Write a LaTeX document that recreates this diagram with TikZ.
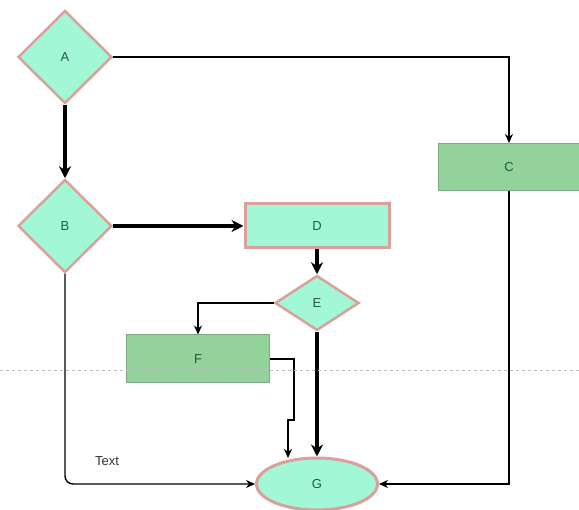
\documentclass[tikz,border=0pt]{standalone}
\usepackage{fontspec}
\setmainfont{Liberation Sans}
\usetikzlibrary{shapes.geometric,arrows.meta,calc}
\definecolor{aqua}{HTML}{A2F7D6}
\definecolor{rose}{HTML}{D9A09C}
\definecolor{grn}{HTML}{93D29A}
\definecolor{grnb}{HTML}{7FA888}
\definecolor{txt}{HTML}{1F5C40}
\tikzset{
  lbl/.style={font=\fontsize{13}{15}\selectfont, text=txt},
  dia/.style={diamond, draw=rose, fill=aqua, line width=2.5pt, inner sep=0pt, lbl},
  arect/.style={rectangle, draw=rose, fill=aqua, line width=3pt, inner sep=0pt, lbl},
  grect/.style={rectangle, draw=grnb, fill=grn, line width=1pt, inner sep=0pt, lbl},
  oval/.style={ellipse, draw=rose, fill=aqua, line width=3pt, inner sep=0pt, lbl},
  thin conn/.style={line width=1.4pt, -{Stealth[length=9pt,width=8pt]}},
  thick conn/.style={line width=3.2pt, -{Stealth[length=12pt,width=12pt]}},
}
\begin{document}
\begin{tikzpicture}[x=1pt,y=-1pt]
\useasboundingbox (0,0) rectangle (579,510);
\node[dia, minimum width=94pt, minimum height=93pt] (A) at (65,57) {A};
\node[dia, minimum width=94pt, minimum height=93pt] (B) at (65,226) {B};
\node[grect, minimum width=142pt, minimum height=47pt] (C) at (509,167) {C};
\node[arect, minimum width=144pt, minimum height=44pt] (D) at (317,226) {D};
\node[dia, minimum width=84pt, minimum height=55pt] (E) at (317,303) {E};
\node[grect, minimum width=143pt, minimum height=48pt] (F) at (198,359) {F};
\node[oval, minimum width=121pt, minimum height=52pt] (G) at (317,484) {G};
\coordinate (f1) at (294,420);
\coordinate (f2) at (288,458);
\draw[thin conn] (A.east) -| (C.north);
\draw[thick conn] (A.south) -- (B.north);
\draw[thick conn] (B.east) -- (D.west);
\draw[thick conn] (D.south) -- (E.north);
\draw[thin conn] (E.west) -| (F.north);
\draw[thick conn] (E.south) -- (G.north);
\draw[thin conn] (F.east) -| (f1) -| (f2);
\draw[thin conn, rounded corners=8pt] (B.south) |- (G.west);
\node[lbl, text=black!80] (T) at (107,461) {Text};
\draw[thin conn] (C.south) |- (G.east);
\draw[gray!50, dashed, line width=0.8pt] (0,370) -- (579,370);
\end{tikzpicture}
\end{document}
